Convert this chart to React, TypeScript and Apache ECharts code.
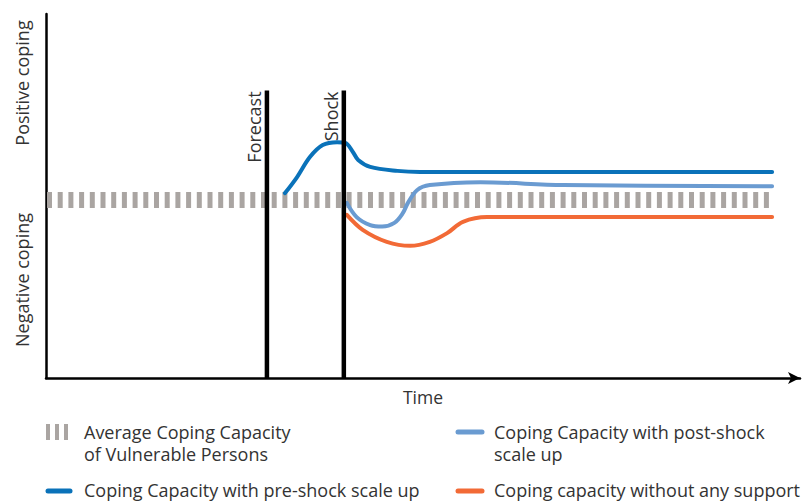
import React, { useEffect, useRef } from "react";
import * as echarts from "echarts";

const averageLine: [number, number][] = [[0, 48.9], [96.3, 48.9]];
const preShock: [number, number][] = [
  [31.7, 50.8], [33.3, 55.2], [35.0, 60.7], [36.7, 64.0], [38.6, 64.8], [39.7, 64.6],
  [40.7, 62.1], [41.4, 59.9], [43.0, 58.0], [46.6, 56.9], [49.6, 56.6], [96.3, 56.6],
];
const postShock: [number, number][] = [
  [39.9, 48.1], [41.2, 44.2], [43.0, 42.0], [44.6, 41.6], [46.2, 42.6], [47.3, 45.2], [48.0, 48.1],
  [49.2, 51.6], [50.9, 53.0], [57.6, 53.8], [68.6, 53.0], [96.3, 52.7],
];
const noSupport: [number, number][] = [
  [39.9, 44.8], [42.0, 40.7], [45.2, 37.4], [48.3, 36.3], [50.9, 37.4], [53.2, 39.8],
  [55.3, 42.9], [58.5, 44.2], [96.3, 44.2],
];
const events = [
  { name: "Forecast", x: 29.3, top: 79 },
  { name: "Shock", x: 39.5, top: 79 },
];
const legendNames = [
  "Average Coping Capacity\nof Vulnerable Persons",
  "Coping Capacity with post-shock\nscale up",
  "Coping Capacity with pre-shock scale up",
  "Coping capacity without any support",
];

const FONT = "'Open Sans', 'Noto Sans', sans-serif";
const TXT = "#333333";
const C_GRAY = "#aaa5a2";
const C_DARK = "#0a72b9";
const C_LIGHT = "#6a9bd1";
const C_ORANGE = "#f26a36";

export default function App() {
  const ref = useRef<HTMLDivElement>(null);
  useEffect(() => {
    if (!ref.current) return;
    const chart = echarts.init(ref.current, null, { renderer: "svg" });
    const curve = (name: string, data: [number, number][], color: string, z: number) => ({
      name,
      type: "line",
      data,
      smooth: 0.35,
      symbol: "none",
      z,
      lineStyle: { color, width: 4, cap: "round", join: "round" },
    });
    const option: any = {
      animation: false,
      grid: { left: 46, right: 12, top: 14, bottom: 123 },
      xAxis: {
        type: "value",
        min: 0,
        max: 100,
        name: "Time",
        nameLocation: "middle",
        nameGap: 10,
        nameTextStyle: { fontFamily: FONT, fontSize: 17.5, color: TXT },
        axisLine: { show: true, onZero: false, symbol: ["none", "arrow"], symbolSize: [9, 12], lineStyle: { color: "#000", width: 2.5 } },
        axisTick: { show: false },
        axisLabel: { show: false },
        splitLine: { show: false },
      },
      yAxis: {
        type: "value",
        min: 0,
        max: 100,
        axisLine: { show: true, onZero: false, lineStyle: { color: "#000", width: 2.5 } },
        axisTick: { show: false },
        axisLabel: { show: false },
        splitLine: { show: false },
      },
      series: [
        {
          name: "average",
          type: "line",
          data: averageLine,
          symbol: "none",
          z: 1,
          lineStyle: { color: C_GRAY, width: 16, type: [5, 5.7], cap: "butt", dashOffset: -1 },
        },
        curve("pre", preShock, C_DARK, 3),
        curve("post", postShock, C_LIGHT, 3),
        curve("none", noSupport, C_ORANGE, 3),
        ...events.map((e) => ({
          name: e.name,
          type: "line",
          data: [[e.x, 0], [e.x, e.top]],
          symbol: "none",
          z: 5,
          lineStyle: { color: "#000", width: 4.5, cap: "butt" },
        })),
      ],
    };
    chart.setOption(option);

    const g: any[] = [];
    events.forEach((e) => {
      const p = chart.convertToPixel({ gridIndex: 0 }, [e.x, e.top]) as number[];
      g.push({
        type: "text",
        x: p[0] - 4,
        y: p[1] + 1,
        rotation: Math.PI / 2,
        style: { text: e.name, align: "right", verticalAlign: "bottom", fontFamily: FONT, fontSize: 18, fill: TXT },
      });
    });
    g.push({ type: "text", x: 22, y: 83, rotation: Math.PI / 2, style: { text: "Positive coping", align: "center", verticalAlign: "middle", fontFamily: FONT, fontSize: 18, fill: TXT } });
    g.push({ type: "text", x: 22, y: 280, rotation: Math.PI / 2, style: { text: "Negative coping", align: "center", verticalAlign: "middle", fontFamily: FONT, fontSize: 18, fill: TXT } });

    // legend
    [48, 57, 66].forEach((bx) => g.push({ type: "rect", shape: { x: bx - 2, y: 424, width: 4, height: 16 }, style: { fill: C_GRAY } }));
    const lineIcon = (x1: number, x2: number, y: number, color: string) => ({
      type: "line", shape: { x1, y1: y, x2, y2: y }, style: { stroke: color, lineWidth: 5, lineCap: "round" },
    });
    g.push(lineIcon(458, 482, 432, C_LIGHT));
    g.push(lineIcon(48, 70, 491, C_DARK));
    g.push(lineIcon(458, 482, 491, C_ORANGE));
    const legText = (x: number, y: number, text: string) => ({
      type: "text", x, y, style: { text, fontFamily: FONT, fontSize: 18, fill: TXT, lineHeight: 22, verticalAlign: "middle" },
    });
    g.push(legText(84, 443, legendNames[0]));
    g.push(legText(494, 443, legendNames[1]));
    g.push(legText(84, 490, legendNames[2]));
    g.push(legText(494, 490, legendNames[3]));
    chart.setOption({ graphic: g });

    return () => chart.dispose();
  }, []);
  return <div ref={ref} style={{ width: 812, height: 501, position: "absolute", left: 0, top: 0 }} />;
}
